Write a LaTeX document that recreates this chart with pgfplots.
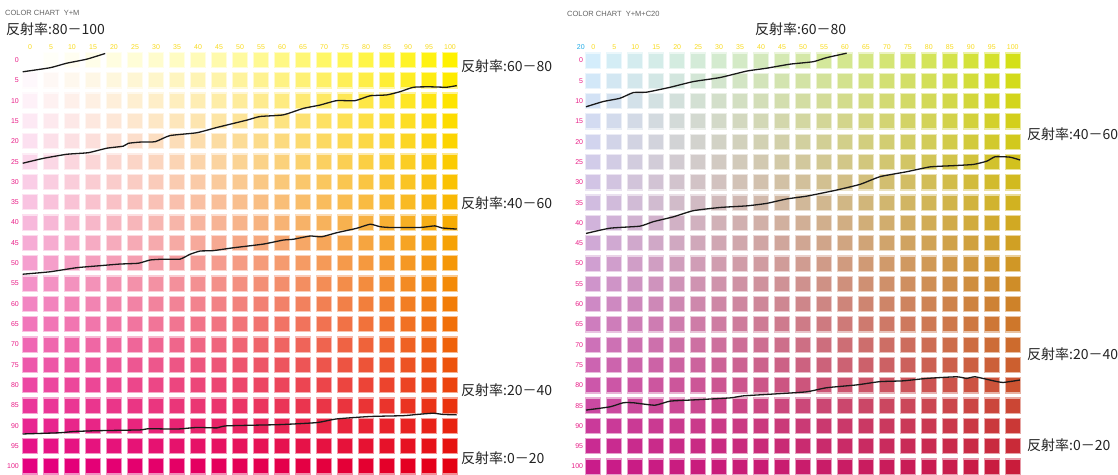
\documentclass[border=0pt]{standalone}
\usepackage{pgfplots}
\pgfplotsset{compat=1.18}
\usepackage{pgfplotstable}
\usepackage{fontspec}
\setmainfont{Liberation Sans}
\newfontfamily\cjk{Noto Sans CJK JP}
\definecolor{ytk}{RGB}{248,218,30}
\definecolor{mtk}{RGB}{232,30,135}
\definecolor{ctk}{RGB}{30,170,230}
\definecolor{ttl}{RGB}{100,100,100}
\definecolor{lbl}{RGB}{35,35,35}

\pgfplotstableread[row sep=\\]{
x y\\
0 0\\ 5 0\\ 10 0\\ 15 0\\ 20 0\\ 25 0\\ 30 0\\ 35 0\\ 40 0\\ 45 0\\ 50 0\\ 55 0\\ 60 0\\ 65 0\\ 70 0\\ 75 0\\ 80 0\\ 85 0\\ 90 0\\ 95 0\\ 100 0\\
0 5\\ 5 5\\ 10 5\\ 15 5\\ 20 5\\ 25 5\\ 30 5\\ 35 5\\ 40 5\\ 45 5\\ 50 5\\ 55 5\\ 60 5\\ 65 5\\ 70 5\\ 75 5\\ 80 5\\ 85 5\\ 90 5\\ 95 5\\ 100 5\\
0 10\\ 5 10\\ 10 10\\ 15 10\\ 20 10\\ 25 10\\ 30 10\\ 35 10\\ 40 10\\ 45 10\\ 50 10\\ 55 10\\ 60 10\\ 65 10\\ 70 10\\ 75 10\\ 80 10\\ 85 10\\ 90 10\\ 95 10\\ 100 10\\
0 15\\ 5 15\\ 10 15\\ 15 15\\ 20 15\\ 25 15\\ 30 15\\ 35 15\\ 40 15\\ 45 15\\ 50 15\\ 55 15\\ 60 15\\ 65 15\\ 70 15\\ 75 15\\ 80 15\\ 85 15\\ 90 15\\ 95 15\\ 100 15\\
0 20\\ 5 20\\ 10 20\\ 15 20\\ 20 20\\ 25 20\\ 30 20\\ 35 20\\ 40 20\\ 45 20\\ 50 20\\ 55 20\\ 60 20\\ 65 20\\ 70 20\\ 75 20\\ 80 20\\ 85 20\\ 90 20\\ 95 20\\ 100 20\\
0 25\\ 5 25\\ 10 25\\ 15 25\\ 20 25\\ 25 25\\ 30 25\\ 35 25\\ 40 25\\ 45 25\\ 50 25\\ 55 25\\ 60 25\\ 65 25\\ 70 25\\ 75 25\\ 80 25\\ 85 25\\ 90 25\\ 95 25\\ 100 25\\
0 30\\ 5 30\\ 10 30\\ 15 30\\ 20 30\\ 25 30\\ 30 30\\ 35 30\\ 40 30\\ 45 30\\ 50 30\\ 55 30\\ 60 30\\ 65 30\\ 70 30\\ 75 30\\ 80 30\\ 85 30\\ 90 30\\ 95 30\\ 100 30\\
0 35\\ 5 35\\ 10 35\\ 15 35\\ 20 35\\ 25 35\\ 30 35\\ 35 35\\ 40 35\\ 45 35\\ 50 35\\ 55 35\\ 60 35\\ 65 35\\ 70 35\\ 75 35\\ 80 35\\ 85 35\\ 90 35\\ 95 35\\ 100 35\\
0 40\\ 5 40\\ 10 40\\ 15 40\\ 20 40\\ 25 40\\ 30 40\\ 35 40\\ 40 40\\ 45 40\\ 50 40\\ 55 40\\ 60 40\\ 65 40\\ 70 40\\ 75 40\\ 80 40\\ 85 40\\ 90 40\\ 95 40\\ 100 40\\
0 45\\ 5 45\\ 10 45\\ 15 45\\ 20 45\\ 25 45\\ 30 45\\ 35 45\\ 40 45\\ 45 45\\ 50 45\\ 55 45\\ 60 45\\ 65 45\\ 70 45\\ 75 45\\ 80 45\\ 85 45\\ 90 45\\ 95 45\\ 100 45\\
0 50\\ 5 50\\ 10 50\\ 15 50\\ 20 50\\ 25 50\\ 30 50\\ 35 50\\ 40 50\\ 45 50\\ 50 50\\ 55 50\\ 60 50\\ 65 50\\ 70 50\\ 75 50\\ 80 50\\ 85 50\\ 90 50\\ 95 50\\ 100 50\\
0 55\\ 5 55\\ 10 55\\ 15 55\\ 20 55\\ 25 55\\ 30 55\\ 35 55\\ 40 55\\ 45 55\\ 50 55\\ 55 55\\ 60 55\\ 65 55\\ 70 55\\ 75 55\\ 80 55\\ 85 55\\ 90 55\\ 95 55\\ 100 55\\
0 60\\ 5 60\\ 10 60\\ 15 60\\ 20 60\\ 25 60\\ 30 60\\ 35 60\\ 40 60\\ 45 60\\ 50 60\\ 55 60\\ 60 60\\ 65 60\\ 70 60\\ 75 60\\ 80 60\\ 85 60\\ 90 60\\ 95 60\\ 100 60\\
0 65\\ 5 65\\ 10 65\\ 15 65\\ 20 65\\ 25 65\\ 30 65\\ 35 65\\ 40 65\\ 45 65\\ 50 65\\ 55 65\\ 60 65\\ 65 65\\ 70 65\\ 75 65\\ 80 65\\ 85 65\\ 90 65\\ 95 65\\ 100 65\\
0 70\\ 5 70\\ 10 70\\ 15 70\\ 20 70\\ 25 70\\ 30 70\\ 35 70\\ 40 70\\ 45 70\\ 50 70\\ 55 70\\ 60 70\\ 65 70\\ 70 70\\ 75 70\\ 80 70\\ 85 70\\ 90 70\\ 95 70\\ 100 70\\
0 75\\ 5 75\\ 10 75\\ 15 75\\ 20 75\\ 25 75\\ 30 75\\ 35 75\\ 40 75\\ 45 75\\ 50 75\\ 55 75\\ 60 75\\ 65 75\\ 70 75\\ 75 75\\ 80 75\\ 85 75\\ 90 75\\ 95 75\\ 100 75\\
0 80\\ 5 80\\ 10 80\\ 15 80\\ 20 80\\ 25 80\\ 30 80\\ 35 80\\ 40 80\\ 45 80\\ 50 80\\ 55 80\\ 60 80\\ 65 80\\ 70 80\\ 75 80\\ 80 80\\ 85 80\\ 90 80\\ 95 80\\ 100 80\\
0 85\\ 5 85\\ 10 85\\ 15 85\\ 20 85\\ 25 85\\ 30 85\\ 35 85\\ 40 85\\ 45 85\\ 50 85\\ 55 85\\ 60 85\\ 65 85\\ 70 85\\ 75 85\\ 80 85\\ 85 85\\ 90 85\\ 95 85\\ 100 85\\
0 90\\ 5 90\\ 10 90\\ 15 90\\ 20 90\\ 25 90\\ 30 90\\ 35 90\\ 40 90\\ 45 90\\ 50 90\\ 55 90\\ 60 90\\ 65 90\\ 70 90\\ 75 90\\ 80 90\\ 85 90\\ 90 90\\ 95 90\\ 100 90\\
0 95\\ 5 95\\ 10 95\\ 15 95\\ 20 95\\ 25 95\\ 30 95\\ 35 95\\ 40 95\\ 45 95\\ 50 95\\ 55 95\\ 60 95\\ 65 95\\ 70 95\\ 75 95\\ 80 95\\ 85 95\\ 90 95\\ 95 95\\ 100 95\\
0 100\\ 5 100\\ 10 100\\ 15 100\\ 20 100\\ 25 100\\ 30 100\\ 35 100\\ 40 100\\ 45 100\\ 50 100\\ 55 100\\ 60 100\\ 65 100\\ 70 100\\ 75 100\\ 80 100\\ 85 100\\ 90 100\\ 95 100\\ 100 100\\
}\gridtab

\pgfplotsset{
  chartbase/.style={
    scale only axis, anchor=north west, clip=false,
    xmin=-5, xmax=105, ymax=105, y dir=reverse,
    axis line style={draw=none}, tick style={draw=none},
  },
  chartaxis/.style={
    chartbase,
    xtick={0,5,...,100}, ytick={0,5,...,100},
    xticklabel pos=upper,
    /pgf/number format/assume math mode=true,
    xticklabel style={anchor=center, inner sep=0pt, text=ytk, font=\fontsize{7}{8}\selectfont},
    yticklabel style={anchor=east, inner sep=0pt, text=mtk, font=\fontsize{7}{8}\selectfont},
  },
  overlayaxis/.style={chartbase, xtick=\empty, ytick=\empty},
  colorsq/.style={
    scatter, only marks, mark=square*, mark size=7.6pt,
    visualization depends on={x \as \vY},
    visualization depends on={y \as \vM},
    scatter/@pre marker code/.code={%
      \pgfmathsetmacro\gY{\vY/100*(0.5+0.005*\vY)}%
      \pgfmathsetmacro\gM{\vM/100*(0.5+0.005*\vM)}%
      \pgfmathsetmacro\sqR{max(0,min(1,\cfR*(1-0.106*\gM)+\oR*\gM))}%
      \pgfmathsetmacro\sqG{max(0,min(1,\cfG*(1-\gM)*(1-0.055*\gY)+\oG*\gM))}%
      \pgfmathsetmacro\sqB{max(0,min(1,\cfB*(1-0.502*\gM)*(1-\gY)+\oB*\gM+\oBY*\gM*\gY+\oYB*\gY))}%
      \definecolor{cc}{rgb}{\sqR,\sqG,\sqB}%
      \scope[fill=cc,draw=cc!45!white,line width=1.2pt]%
    },
    scatter/@post marker code/.code={\endscope},
  },
  curve/.style={black!90, line width=1.3pt, smooth, tension=0.3},
}

\begin{document}
\begin{tikzpicture}
\path[use as bounding box] (0,0) rectangle (1118pt,474pt);

% ---------- left chart: Y+M ----------
\def\cfR{1}\def\cfG{1}\def\cfB{1}
\def\oR{0}\def\oG{0}\def\oB{0}\def\oBY{0.07}\def\oYB{0}
\begin{axis}[chartaxis,
  at={(9pt,427.3pt)}, width=462pt, height=440.1pt, ymin=-3.27,
  yticklabel style={xshift=10pt},
]
\addplot[colorsq] table[x=x,y=y] {\gridtab};
\end{axis}
\begin{axis}[overlayaxis,
  at={(9pt,427.3pt)}, width=462pt, height=440.1pt, ymin=-3.27,
]
% 80-100
\addplot[curve] coordinates {(-1.74,2.9) (4.8,1.9) (8.7,0.8) (13.5,-0.2) (17.9,-1.6)};
% 60-80
\addplot[curve] coordinates {(-1.74,25.4) (3.17,24.2) (8.74,23.2) (13.9,22.8) (18.3,21.7) (22.2,21.2) (23.4,20.5) (26.2,20.2) (29.8,20.1) (33.3,18.6) (39.7,17.9) (44.5,16.6) (51.6,14.8) (54.8,13.9) (60.3,13.5) (65.1,11.9) (69.0,11.1) (73.0,10.0) (77.4,10.0) (81.0,8.8) (84.9,8.6) (88.1,7.8) (91.3,6.7) (95.2,6.6) (99.2,6.7) (101.6,6.3)};
% 40-60
\addplot[curve] coordinates {(-1.74,52.7) (4.76,52.1) (11.1,51.1) (16.7,50.6) (21.4,50.2) (25.8,50.0) (28.6,49.2) (31.7,49.0) (35.7,49.0) (38.1,47.8) (40.5,47.0) (43.6,46.9) (48.4,46.2) (55.5,45.3) (60.3,44.3) (62.7,44.1) (66.7,43.3) (69.4,43.5) (73.0,42.5) (77.8,41.4) (81.0,40.4) (83.3,41.0) (85.7,41.2) (92.9,41.2) (96.4,40.8) (98.0,41.3) (101.6,41.6)};
% 20-40
\addplot[curve] coordinates {(-1.74,92.0) (7.14,91.7) (10.3,91.4) (15.9,91.2) (26.2,91.0) (28.2,90.7) (34.9,90.8) (39.7,90.4) (44.5,90.5) (46.8,90.0) (59.5,89.7) (68.3,89.2) (73.0,88.3) (81.0,87.7) (88.9,87.5) (92.1,87.2) (96.0,86.9) (98.4,87.2) (101.6,87.3)};
\end{axis}

% ---------- right chart: Y+M+C20 ----------
\def\cfR{0.83}\def\cfG{0.93}\def\cfB{0.985}
\def\oR{0.045}\def\oG{0.11}\def\oB{0.05}\def\oBY{0.08}\def\oYB{0.1}
\begin{axis}[chartaxis,
  at={(572.3pt,427.3pt)}, width=461.45pt, height=440.1pt, ymin=-3.4,
  yticklabel style={xshift=11pt},
  extra x ticks={-2.98}, extra x tick labels={20},
  extra x tick style={xticklabel pos=upper, xticklabel style={text=ctk}},
]
\addplot[colorsq] table[x=x,y=y] {\gridtab};
\end{axis}
\begin{axis}[overlayaxis,
  at={(572.3pt,427.3pt)}, width=461.45pt, height=440.1pt, ymin=-3.4,
]
% 60-80
\addplot[curve] coordinates {(-1.74,11.4) (2.38,10.1) (6.36,9.3) (9.54,7.9) (12.7,7.8) (18.3,6.6) (23.8,5.2) (30.2,4.2) (36.6,2.6) (41.3,1.9) (46.9,0.9) (52.4,0.3) (55.6,-0.7) (60.4,-1.8)};
% 40-60
\addplot[curve] coordinates {(-1.74,42.6) (3.98,41.3) (11.1,40.8) (14.3,39.7) (19.1,38.5) (23.8,37.0) (30.2,36.2) (36.6,35.8) (41.3,35.2) (46.1,34.1) (50.9,33.4) (57.6,32.0) (63.6,30.5) (68.4,28.6) (74.7,27.4) (80.3,26.2) (85.8,25.9) (90.6,25.6) (93.8,24.8) (95.8,23.7) (99.3,23.8) (101.7,24.5)};
% 20-40
\addplot[curve] coordinates {(-1.74,86.1) (3.98,85.3) (7.15,84.3) (9.54,84.3) (14.7,84.9) (18.3,83.9) (23.8,83.6) (32.6,83.1) (35.8,82.6) (43.7,82.1) (50.9,81.6) (55.6,80.6) (62.8,79.9) (68.3,79.1) (73.9,78.9) (79.5,78.3) (86.6,77.9) (89.0,78.3) (91.0,77.9) (95.4,78.9) (97.7,79.3) (101.7,78.7)};
\end{axis}

% ---------- titles and labels ----------
\begin{scope}[every node/.style={inner sep=0pt, anchor=west}]
\node[text=ttl, font=\fontsize{7.5}{8}\selectfont] at (5pt,461pt) {COLOR CHART\ \ Y+M};
\node[text=ttl, font=\fontsize{7.5}{8}\selectfont] at (567pt,460pt) {COLOR CHART\ \ Y+M+C20};
\node[text=lbl, font=\cjk\fontsize{14}{16}\selectfont] at (6pt,445pt) {反射率:80－100};
\node[text=lbl, font=\cjk\fontsize{14}{16}\selectfont] at (755pt,445pt) {反射率:60－80};
\node[text=lbl, font=\cjk\fontsize{14}{16}\selectfont] at (461pt,408pt) {反射率:60－80};
\node[text=lbl, font=\cjk\fontsize{14}{16}\selectfont] at (461pt,271pt) {反射率:40－60};
\node[text=lbl, font=\cjk\fontsize{14}{16}\selectfont] at (461pt,84pt) {反射率:20－40};
\node[text=lbl, font=\cjk\fontsize{14}{16}\selectfont] at (461pt,16pt) {反射率:0－20};
\node[text=lbl, font=\cjk\fontsize{14}{16}\selectfont] at (1027pt,340pt) {反射率:40－60};
\node[text=lbl, font=\cjk\fontsize{14}{16}\selectfont] at (1027pt,120pt) {反射率:20－40};
\node[text=lbl, font=\cjk\fontsize{14}{16}\selectfont] at (1027pt,29pt) {反射率:0－20};
\end{scope}
\end{tikzpicture}
\end{document}
